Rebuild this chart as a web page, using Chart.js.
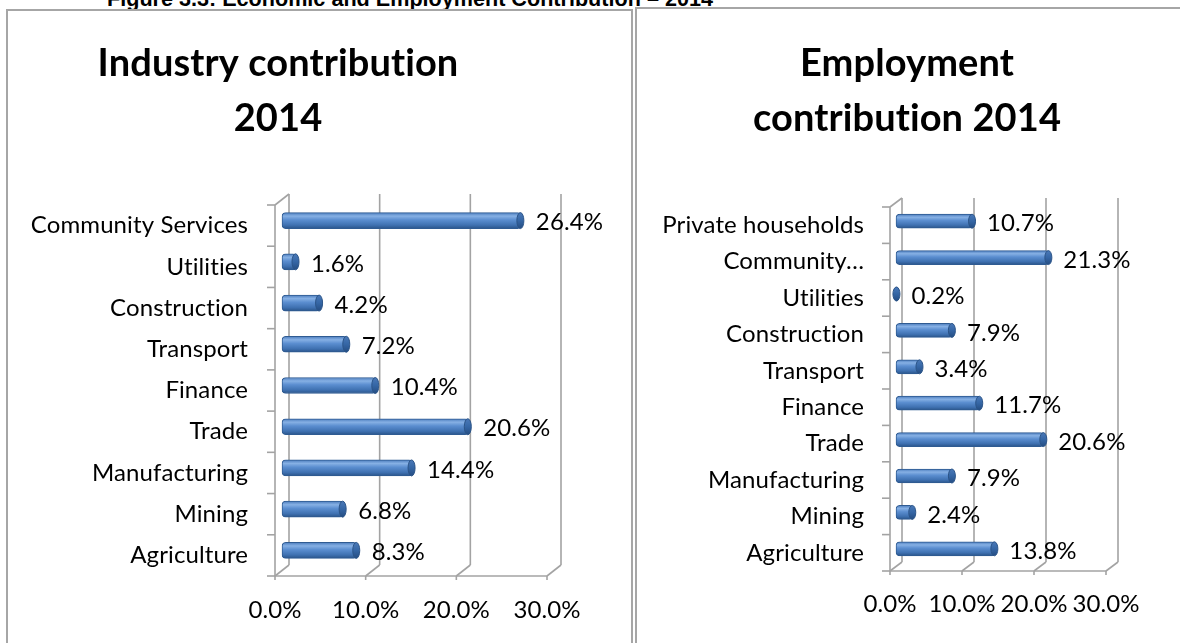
<!DOCTYPE html>
<html>
<head>
<meta charset="utf-8">
<title>Economic and Employment Contribution – 2014</title>
<script src="https://cdn.jsdelivr.net/npm/chart.js@4.4.1/dist/chart.umd.min.js"></script>
<style>
  html, body { margin: 0; padding: 0; background: #fff; }
  body { width: 1180px; height: 643px; position: relative; overflow: hidden; }
  .caption {
    position: absolute; left: 107px; top: -12px;
    font: bold 21.6px/22px "Liberation Sans", Arial, sans-serif;
    color: #000; white-space: nowrap;
  }
  .panel { position: absolute; box-sizing: border-box; height: 720px; border: 2px solid #a6a6a6; }
  #panelLeft { left: 6px; top: 9px; width: 627px; }
  #panelRight { left: 635px; top: 7px; width: 620px; }
  canvas { position: absolute; top: 0; }
  #industryChart { left: 0; }
  #employmentChart { left: 634px; }
</style>
</head>
<body>
<div class="caption">Figure 3.3: Economic and Employment Contribution – 2014</div>
<div class="panel" id="panelLeft"></div>
<div class="panel" id="panelRight"></div>
<canvas id="industryChart" width="634" height="643"></canvas>
<canvas id="employmentChart" width="546" height="643"></canvas>
<script>
// ---- data ----
const industryTitle = ['Industry contribution', '2014'];
const industryCategories = ['Agriculture', 'Mining', 'Manufacturing', 'Trade', 'Finance',
  'Transport', 'Construction', 'Utilities', 'Community Services'];
const industryShare = [8.3, 6.8, 14.4, 20.6, 10.4, 7.2, 4.2, 1.6, 26.4];

const employmentTitle = ['Employment', 'contribution 2014'];
const employmentCategories = ['Agriculture', 'Mining', 'Manufacturing', 'Trade', 'Finance',
  'Transport', 'Construction', 'Utilities', 'Community…', 'Private households'];
const employmentShare = [13.8, 2.4, 7.9, 20.6, 11.7, 3.4, 7.9, 0.2, 21.3, 10.7];

const axisMin = 0;
const axisMax = 30;
const axisStep = 10;

// ---- look ----
const FONT = 'Lato, "Noto Sans", sans-serif';
const FRAME_GRAY = '#a3a3a3';
const BAR_BLUE = '#4f81bd';

const pct = v => Number(v).toFixed(1) + '%';

// Vertical shading across each bar so it reads as a cylinder
function cylinderFill(thickness) {
  return (c) => {
    const chart = c.chart;
    const ys = chart.scales && chart.scales.y;
    if (c.type !== 'data' || !ys || !chart.chartArea) return BAR_BLUE;
    const yc = ys.getPixelForValue(c.dataIndex);
    const g = chart.ctx.createLinearGradient(0, yc - thickness / 2, 0, yc + thickness / 2);
    g.addColorStop(0, '#4b7cbd');
    g.addColorStop(0.22, '#86b0e4');
    g.addColorStop(0.45, '#5b8ed0');
    g.addColorStop(0.78, '#3f71b1');
    g.addColorStop(1, '#2a5489');
    return g;
  };
}

// Plain letter pairs (no "ti" style ligatures) for every text on the canvas
const plainText = {
  id: 'plainText',
  beforeInit(chart) { chart.ctx.letterSpacing = '0.1px'; },
  beforeDraw(chart) { chart.ctx.letterSpacing = '0.1px'; }
};

// Back wall, floor edges and axis stubs of the 3-D frame
const frame3d = {
  id: 'frame3d',
  beforeDatasetsDraw(chart, args, o) {
    const { ctx, chartArea: a, scales: { x, y } } = chart;
    const seg = (x1, y1, x2, y2) => { ctx.beginPath(); ctx.moveTo(x1, y1); ctx.lineTo(x2, y2); ctx.stroke(); };
    ctx.save();
    ctx.strokeStyle = o.color;
    ctx.lineWidth = o.lineWidth;
    x.ticks.forEach((t, i) => {
      const px = x.getPixelForTick(i);
      seg(px + o.dx, a.top + o.dy, px + o.dx, a.bottom + o.dy);   // back wall gridline
      seg(px, a.bottom, px + o.dx, a.bottom + o.dy);               // floor depth edge
      seg(px, a.bottom, px, a.bottom + o.tickDown);                 // tick mark
    });
    seg(a.left, a.top, a.left, a.bottom);                           // front category axis
    seg(a.left, a.bottom, a.right, a.bottom);                       // front value axis
    seg(a.left, a.top, a.left + o.dx, a.top + o.dy);                // side wall top edge
    const n = y.ticks.length;
    const band = (a.bottom - a.top) / n;
    for (let k = 0; k <= n; k++) {
      const yy = a.top + k * band;
      seg(a.left - o.tickLeft, yy, a.left, yy);
    }
    ctx.restore();
  }
};

// Sets the bars at mid depth and caps their ends
const barDepth = {
  id: 'barDepth',
  beforeDatasetsDraw(chart, args, o) {
    chart.ctx.save();
    chart.ctx.translate(o.shiftX, o.shiftY);
  },
  afterDatasetsDraw(chart, args, o) {
    const ctx = chart.ctx;
    chart.getDatasetMeta(0).data.forEach(bar => {
      const h = bar.height;
      const g = ctx.createLinearGradient(0, bar.y - h / 2, 0, bar.y + h / 2);
      g.addColorStop(0, '#4a79b8');
      g.addColorStop(0.5, '#3566a5');
      g.addColorStop(1, '#254d82');
      ctx.beginPath();
      ctx.ellipse(bar.x - 1, bar.y, o.capRx, h / 2, 0, 0, Math.PI * 2);
      ctx.fillStyle = g;
      ctx.fill();
      ctx.lineWidth = 1;
      ctx.strokeStyle = '#2b5488';
      ctx.stroke();
    });
    ctx.restore();
  }
};

// Percentage written after each bar
const valueLabels = {
  id: 'valueLabels',
  afterDatasetsDraw(chart, args, o) {
    const ctx = chart.ctx;
    const values = chart.data.datasets[0].data;
    ctx.save();
    ctx.font = `${o.size}px ${FONT}`;
    ctx.fillStyle = '#000';
    ctx.textAlign = 'left';
    ctx.textBaseline = 'middle';
    chart.getDatasetMeta(0).data.forEach((bar, i) => {
      ctx.fillText(pct(values[i]), bar.x + o.shiftX + o.gap, bar.y + o.shiftY + o.dy);
    });
    ctx.restore();
  }
};

// Two-line bold heading
const panelTitle = {
  id: 'panelTitle',
  afterDraw(chart, args, o) {
    const ctx = chart.ctx;
    ctx.save();
    ctx.font = `bold ${o.size}px ${FONT}`;
    ctx.fillStyle = '#000';
    ctx.textAlign = 'center';
    ctx.textBaseline = 'alphabetic';
    o.lines.forEach((t, i) => ctx.fillText(t, o.x, o.baseline + i * o.lineGap));
    ctx.restore();
  }
};

function makeChart(canvasId, labels, values, g) {
  return new Chart(document.getElementById(canvasId), {
    type: 'bar',
    data: {
      labels,
      datasets: [{
        data: values,
        backgroundColor: cylinderFill(g.thickness),
        borderColor: '#2f5b92',
        borderWidth: 1,
        borderSkipped: false,
        borderRadius: 4,
        barThickness: g.thickness,
        clip: false
      }]
    },
    options: {
      indexAxis: 'y',
      responsive: false,
      animation: false,
      events: [],
      layout: { padding: g.padding },
      scales: {
        x: {
          min: axisMin,
          max: axisMax,
          grid: { display: false, drawTicks: false },
          border: { display: false },
          ticks: {
            stepSize: axisStep,
            padding: g.xPad,
            color: '#000',
            font: { family: FONT, size: g.fontSize },
            maxRotation: 0,
            callback: v => pct(v)
          },
          afterFit: s => { s.height = 50; }
        },
        y: {
          reverse: true,
          grid: { display: false, drawTicks: false },
          border: { display: false },
          ticks: {
            autoSkip: false,
            padding: g.yPad,
            color: '#000',
            font: { family: FONT, size: g.fontSize }
          },
          afterFit: s => { s.width = g.yWidth; }
        }
      },
      plugins: {
        legend: { display: false },
        tooltip: { enabled: false },
        frame3d: { color: FRAME_GRAY, lineWidth: 1.6, dx: g.dx, dy: g.dy, tickDown: 4, tickLeft: 8 },
        barDepth: { shiftX: g.shiftX, shiftY: g.shiftY, capRx: 3.5 },
        valueLabels: { size: g.fontSize, shiftX: g.shiftX, shiftY: g.shiftY, gap: g.gap, dy: g.labelDy },
        panelTitle: { lines: g.title, size: 38, x: g.titleX, baseline: 76, lineGap: 55 }
      }
    },
    plugins: [plainText, frame3d, barDepth, valueLabels, panelTitle]
  });
}

makeChart('industryChart', industryCategories, industryShare, {
  title: industryTitle, titleX: 278,
  thickness: 16, fontSize: 24,
  padding: { left: 0, top: 205, right: 87, bottom: 17 },
  yWidth: 275, yPad: 27, xPad: 20,
  dx: 14, dy: -11, shiftX: 7, shiftY: -5,
  gap: 14.5, labelDy: 2
});

makeChart('employmentChart', employmentCategories, employmentShare, {
  title: employmentTitle, titleX: 273,
  thickness: 14, fontSize: 24,
  padding: { left: 0, top: 207, right: 74, bottom: 22 },
  yWidth: 256, yPad: 26, xPad: 19,
  dx: 12, dy: -9, shiftX: 6, shiftY: -4,
  gap: 14, labelDy: 2.5
});
</script>
</body>
</html>
